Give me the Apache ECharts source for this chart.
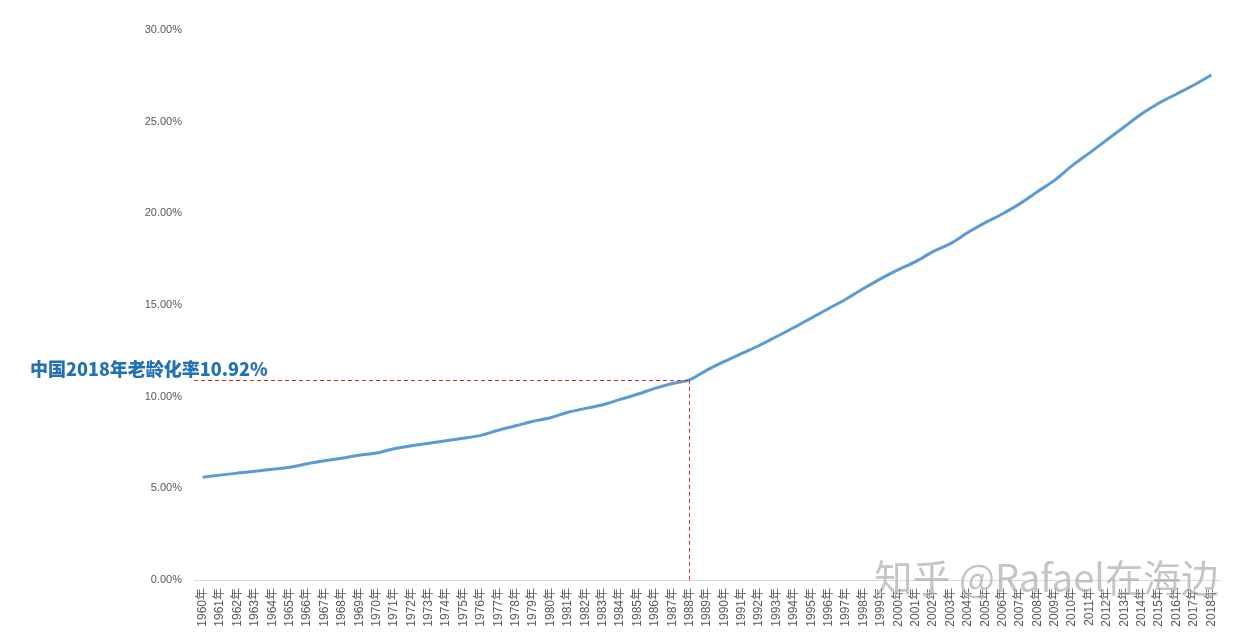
<!DOCTYPE html>
<html>
<head>
<meta charset="utf-8">
<script src="https://cdn.jsdelivr.net/npm/echarts@6/dist/echarts.min.js"></script>
<style>
html,body{margin:0;padding:0;background:#fff;}
#chart{width:1246px;height:640px;}
</style>
</head>
<body>
<div id="chart"></div>
<script>
const years = [];
for (let y = 1960; y <= 2018; y++) years.push(y + '年');

const agingRate = [
  5.61, 5.72, 5.83, 5.93, 6.04, 6.15, 6.34, 6.51, 6.64, 6.81,
  6.93, 7.16, 7.32, 7.46, 7.60, 7.73, 7.89, 8.17, 8.41, 8.66,
  8.85, 9.15, 9.36, 9.56, 9.85, 10.13, 10.45, 10.72, 10.92, 11.45,
  11.92, 12.36, 12.79, 13.28, 13.77, 14.29, 14.81, 15.33, 15.90, 16.44,
  16.93, 17.37, 17.91, 18.35, 18.95, 19.49, 19.98, 20.53, 21.18, 21.81,
  22.60, 23.30, 24.01, 24.72, 25.43, 26.02, 26.51, 27.00, 27.55
];

const markYear = '1988年';
const markValue = 10.92;
const annotationText = '中国2018年老龄化率10.92%';
const watermarkText = '知乎 @Rafael在海边';

const dashStyle = { color: '#D0342C', type: [4, 3], width: 1 };

const chart = echarts.init(document.getElementById('chart'));
chart.setOption({
  animation: false,
  backgroundColor: '#fff',
  grid: { left: 194, right: 26, top: 30, bottom: 60, containLabel: false },
  xAxis: {
    type: 'category',
    data: years,
    boundaryGap: true,
    axisLine: { lineStyle: { color: '#d9d9d9', width: 1 } },
    axisTick: { show: false },
    axisLabel: {
      rotate: 90,
      interval: 0,
      color: '#595959',
      fontSize: 12,
      margin: 8,
      fontFamily: 'Liberation Sans, Noto Sans CJK SC, sans-serif'
    },
    splitLine: { show: false }
  },
  yAxis: {
    type: 'value',
    min: 0,
    max: 30,
    interval: 5,
    axisLine: { show: false },
    axisTick: { show: false },
    splitLine: { show: false },
    axisLabel: {
      color: '#595959',
      fontSize: 11,
      margin: 12,
      fontFamily: 'Liberation Sans, sans-serif',
      formatter: v => v.toFixed(2) + '%'
    }
  },
  series: [{
    type: 'line',
    data: agingRate,
    smooth: 0.3,
    showSymbol: false,
    lineStyle: { color: '#5B9BD5', width: 3 },
    itemStyle: { color: '#5B9BD5' },
    markLine: {
      silent: true,
      symbol: 'none',
      label: { show: false },
      itemStyle: { color: '#D0342C' },
      lineStyle: dashStyle,
      data: [
        [{ x: 194, yAxis: markValue, lineStyle: dashStyle }, { coord: [markYear, markValue], lineStyle: dashStyle }],
        [{ coord: [markYear, markValue], lineStyle: dashStyle }, { coord: [markYear, 0], lineStyle: dashStyle }]
      ]
    }
  }],
  graphic: [
    {
      type: 'text',
      left: 30,
      top: 360,
      style: {
        text: annotationText,
        fill: '#2271B3',
        font: '900 18px "Noto Sans CJK SC", sans-serif'
      }
    },
    {
      type: 'text',
      left: 874,
      top: 558,
      z: 100,
      style: {
        text: watermarkText,
        fill: 'rgba(140,140,140,0.5)',
        stroke: 'rgba(255,255,255,0.8)',
        lineWidth: 1,
        font: '38px "Noto Sans CJK SC", sans-serif'
      }
    }
  ]
});
</script>
</body>
</html>
